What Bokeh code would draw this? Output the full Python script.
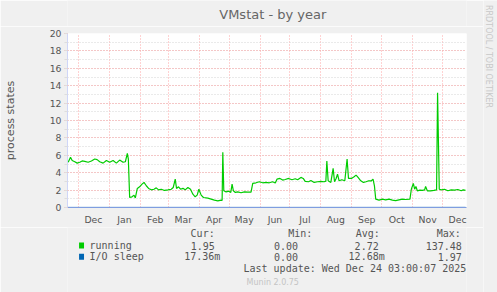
import math
import pandas as pd
from bokeh.plotting import figure
from bokeh.layouts import row, column
from bokeh.models import Range1d, FixedTicker, SingleIntervalTicker
from bokeh.core.properties import value
from bokeh.embed import file_html
from bokeh.resources import INLINE

# ---------------- data ----------------
START = pd.Timestamp("2024-11-20")
RANGE_DAYS = 400

# running processes: day offset from START, averaged value
running_days = [0.7, 3, 4.7, 7.3, 9.7, 12.3, 14.7, 17.3, 20.7, 24, 27.3, 29.7, 32.3, 35.7,
                39, 42.3, 45.7, 49, 52.3, 55.7, 58, 60, 61, 62.3, 64.7, 66.7, 68, 70,
                72.3, 74.7, 76.7, 79, 81.3, 84, 86.7, 89, 91.3, 94, 97.3, 100.7, 104, 106,
                108, 109.3, 111.3, 113.3, 115.7, 118, 120.7, 123.3, 125.7, 128, 130, 131.7,
                134, 136.3, 140.7, 144, 147.3, 150.7, 154, 155, 155.7, 156.7, 159, 161.7,
                163.7, 165, 166.3, 168.3, 170.7, 174, 177.3, 180.7, 184, 185.7, 189, 192.3,
                195.7, 199, 202.3, 205.7, 208.3, 210, 213, 215.7, 218.3, 221.7, 225, 228.3,
                230.7, 234, 236.3, 238.3, 241.7, 244, 247.3, 250.7, 254, 257.3, 259, 260,
                261.3, 264, 266.3, 267.7, 269.3, 270.7, 272.3, 275, 278, 280.3, 281.7,
                284.7, 287.3, 289.3, 291.3, 294, 296.7, 299.3, 302, 304.7, 306.3, 307.7,
                309, 312.3, 315.7, 319, 322.3, 325.7, 329, 332.3, 335.7, 339, 343.3, 344.7,
                346.7, 348, 349.3, 350.7, 353.3, 355.7, 358, 359, 360.7, 364, 367.3, 370,
                371, 372.7, 375, 378, 381.3, 384.7, 388, 391.3, 394.7, 396.7, 399]
running_values = [5.19, 5.77, 5.4, 5.26, 5.1, 5.2, 5.35, 5.3, 5.2, 5.35, 5.57, 5.5, 5.26, 5.1,
                  5.4, 5.2, 5.4, 5.1, 5.45, 5.2, 5.26, 6.22, 5.57, 1.15, 1.23, 1.42, 1.1, 2.19,
                  2.38, 2.69, 2.88, 2.5, 2.19, 2.03, 2.1, 2.26, 2.03, 2.1, 1.96, 2.03, 2.1, 2.3,
                  3.26, 2.19, 2.38, 2.1, 2.2, 2.03, 2.3, 2.1, 1.53, 1.23, 1.42, 2.1,
                  1.42, 1.15, 1.07, 0.96, 0.84, 0.77, 0.84, 0.8, 6.34, 1.92, 1.8, 1.88,
                  1.73, 2.69, 1.92, 1.73, 1.8, 1.69, 1.8, 1.77, 1.77, 2.77, 2.84, 2.96,
                  2.84, 2.88, 2.84, 2.96, 2.81, 3.26, 3.34, 3.15, 3.22, 3.34, 3.19, 3.3,
                  3.19, 3.46, 3.34, 3.0, 2.96, 3.1, 2.88, 2.96, 3.0, 2.96, 3.03, 5.35,
                  3.07, 2.88, 4.5, 2.96, 3.34, 3.84, 3.07, 3.19, 3.07, 5.57, 3.34,
                  3.34, 3.53, 3.72, 3.46, 3.07, 2.88, 2.96, 3.07, 3.07, 3.26, 2.49,
                  0.96, 0.84, 0.96, 0.88, 0.96, 0.84, 0.8, 0.88, 0.96, 0.92, 0.96, 2.1,
                  2.77, 2.1, 2.42, 1.92, 2.0, 1.96, 2.03, 2.42, 1.92, 1.92, 1.96, 2.03,
                  13.2, 2.1, 2.03, 2.1, 1.92, 2.03, 2.0, 2.07, 1.92, 2.03, 1.96]

# I/O sleep processes (stays close to zero)
io_sleep_days = [0, 100, 200, 300, 399]
io_sleep_values = [0.012, 0.013, 0.012, 0.013, 0.017]

month_starts = ["2024-12-01", "2025-01-01", "2025-02-01", "2025-03-01", "2025-04-01",
                "2025-05-01", "2025-06-01", "2025-07-01", "2025-08-01", "2025-09-01",
                "2025-10-01", "2025-11-01", "2025-12-01"]
month_labels = ["Dec", "Jan", "Feb", "Mar", "Apr", "May", "Jun", "Jul", "Aug", "Sep",
                "Oct", "Nov", "Dec"]

title_text = "VMstat - by year"
y_label = "process states"
series_names = ["running", "I/O sleep"]
series_colors = ["#00cc00", "#0066b3"]
stat_headers = ["Cur:", "Min:", "Avg:", "Max:"]
cur_values = ["1.95", "17.36m"]
min_values = ["0.00", "0.00"]
avg_values = ["2.72", "12.68m"]
max_values = ["137.48", "1.97"]
last_update = "Last update: Wed Dec 24 03:00:07 2025"
credit_text = "Munin 2.0.75"
side_text = "RRDTOOL / TOBI OETIKER"

# ---------------- layout (page pixels) ----------------
W, H = 497, 292
LEFT_W = 483          # width of title / chart / legend column
SIDE_W = W - LEFT_W   # right strip with the rrdtool credit
TITLE_H = 26
MAIN_H = 201
LEGEND_H = H - TITLE_H - MAIN_H
FL, FT, FW, FH = 66, 33, 400, 175   # chart frame in page pixels
YMAX = 20

SANS = "DejaVu Sans"
MONO = "DejaVu Sans Mono"
FONT_COL = "#555555"
BG = "#f0f0f0"


def strip(width, height, x0, y0):
    """A figure whose frame fills it, with data coordinates = page pixels."""
    f = figure(width=width, height=height, output_backend="svg", toolbar_location=None,
               x_range=Range1d(x0, x0 + width), y_range=Range1d(y0 + height, y0),
               x_axis_location=None, y_axis_location=None,
               min_border=0, min_border_left=0, min_border_right=0,
               min_border_top=0, min_border_bottom=0)
    f.border_fill_color = BG
    f.background_fill_color = BG
    f.outline_line_color = None
    f.grid.visible = False
    return f


# title strip
title_fig = strip(LEFT_W, TITLE_H, 0, 0)
title_fig.text(x=[248.5], y=[13.5], text=[title_text], text_align="center",
               text_baseline="middle", text_font=value(SANS), text_font_size="13px",
               text_color="#666666")

# main chart
p = figure(width=LEFT_W, height=MAIN_H, output_backend="svg", toolbar_location=None,
           x_range=Range1d(0, RANGE_DAYS), y_range=Range1d(0, YMAX),
           min_border_left=FL, min_border_right=LEFT_W - FL - FW,
           min_border_top=FT - TITLE_H, min_border_bottom=MAIN_H - (FT - TITLE_H) - FH)
p.border_fill_color = BG
p.background_fill_color = "#ffffff"
p.outline_line_color = None

yax = p.yaxis[0]
yax.ticker = SingleIntervalTicker(interval=2, num_minor_ticks=2)
yax.axis_label = y_label
yax.axis_label_text_font = SANS
yax.axis_label_text_font_size = "11px"
yax.axis_label_text_font_style = "normal"
yax.axis_label_text_color = FONT_COL
yax.axis_label_standoff = 30
yax.major_label_text_font = SANS
yax.major_label_text_font_size = "9.3px"
yax.major_label_text_color = FONT_COL
yax.major_label_standoff = 3
yax.axis_line_color = "#CFD6F8"
yax.major_tick_in = 0
yax.major_tick_out = 3
yax.major_tick_line_color = "#ffa5a5"
yax.minor_tick_in = 0
yax.minor_tick_out = 3
yax.minor_tick_line_color = "#dddddd"

month_start_days = [int((pd.Timestamp(d) - START).days) for d in month_starts]
label_days = [d + 15 for d in month_start_days]
xax = p.xaxis[0]
xax.ticker = FixedTicker(ticks=label_days)
xax.major_label_overrides = {d: lab for d, lab in zip(label_days, month_labels)}
xax.major_label_text_font = SANS
xax.major_label_text_font_size = "9.3px"
xax.major_label_text_color = FONT_COL
xax.major_label_standoff = 6
xax.major_tick_line_color = None
xax.major_tick_in = 0
xax.major_tick_out = 0
xax.minor_tick_line_color = None
xax.axis_line_color = "#7f9de0"

p.xgrid.ticker = FixedTicker(ticks=month_start_days)
p.xgrid.grid_line_color = "#ffa5a5"
p.xgrid.grid_line_dash = "1 2"
p.ygrid.grid_line_color = "#ffa5a5"
p.ygrid.grid_line_dash = "1 2"
p.ygrid.minor_grid_line_color = "#d4d4d4"
p.ygrid.minor_grid_line_dash = "1 2"

p.line(io_sleep_days, io_sleep_values, line_color=series_colors[1], line_width=1)
p.line(running_days, running_values, line_color=series_colors[0], line_width=1.2)

# legend block (data coordinates = page pixels)
lg = strip(LEFT_W, LEGEND_H, 0, TITLE_H + MAIN_H)
row_y = [245, 256.3]
lg.quad(left=[14, 14], right=[20, 20], top=[y - 3 for y in row_y],
        bottom=[y + 3 for y in row_y], fill_color=series_colors, line_color=None)
left_x = [149, 267.3, 349, 447, 26.7, 26.7]
left_y = [233.3] * 4 + row_y
left_t = stat_headers + series_names
right_x = [178.3, 185, 279, 279, 376.7, 384, 477.3, 477.3, 482.7]
right_y = [row_y[0], row_y[1]] * 4 + [268.3]
right_t = cur_values + min_values + avg_values + max_values + [last_update]
lg.text(x=left_x, y=left_y, text=left_t, text_align="left", text_baseline="middle",
        text_font=value(MONO), text_font_size="10px", text_color=FONT_COL)
lg.text(x=right_x, y=right_y, text=right_t, text_align="right", text_baseline="middle",
        text_font=value(MONO), text_font_size="10px", text_color=FONT_COL)
lg.text(x=[248.5], y=[282], text=[credit_text], text_align="center",
        text_baseline="middle", text_font=value(SANS), text_font_size="8px",
        text_color="#c4c4c4")

# right strip with the rotated rrdtool credit
side = strip(SIDE_W, H, LEFT_W, 0)
side.text(x=[487.5], y=[56], text=[side_text], angle=-math.pi / 2, text_align="center",
          text_baseline="middle", text_font=value(SANS), text_font_size="8px",
          text_color="#c8c8c8")

layout = row(column(title_fig, p, lg, spacing=0), side, spacing=0)
open("out.html", "w").write(file_html(layout, INLINE))
